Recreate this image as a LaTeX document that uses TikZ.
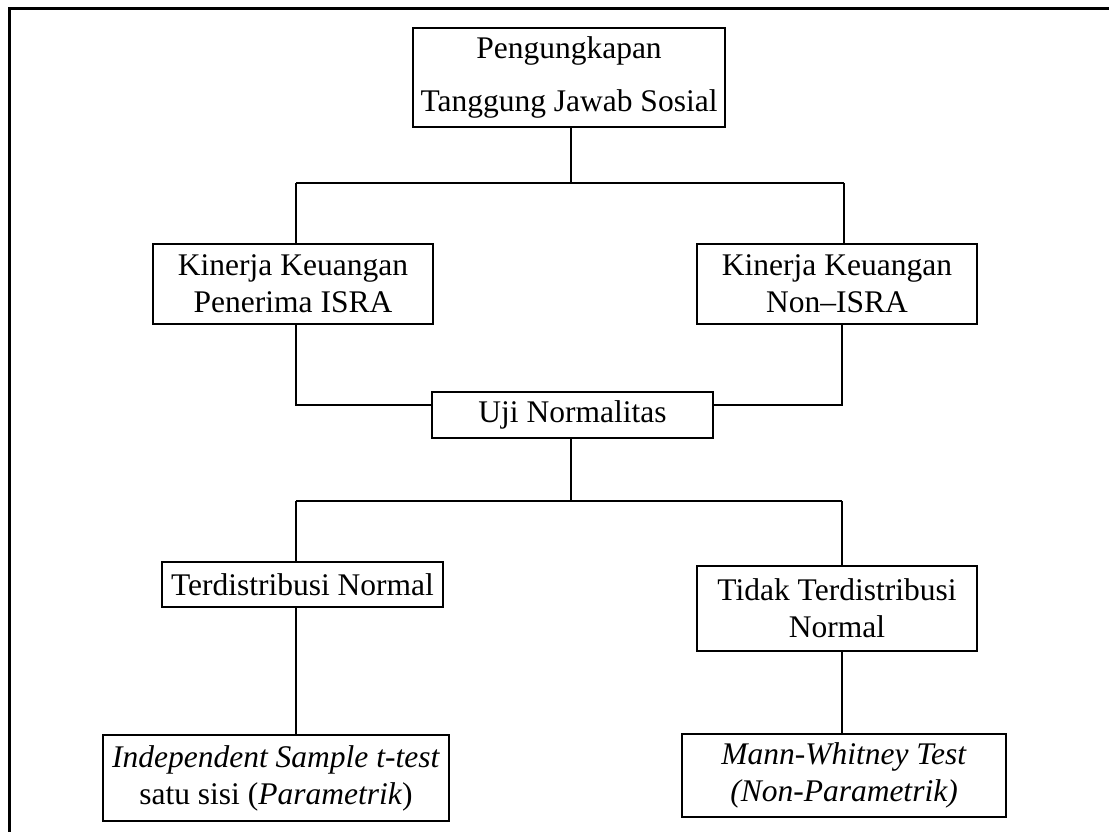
\documentclass[tikz,border=0pt]{standalone}
\usepackage{fontspec}
\setmainfont{Liberation Serif}
\tikzset{
  box/.style={draw, line width=1.6pt, inner sep=0pt, align=center, font=\fontsize{31.5}{37}\selectfont},
  conn/.style={line width=1.6pt},
  frame/.style={line width=3pt}
}
\begin{document}
\begin{tikzpicture}[x=1pt,y=-1pt]
\useasboundingbox (0,0) rectangle (1109,831);
\clip (0,0) rectangle (1109,831);
\draw[frame] (9,8) rectangle (1130,850);
% boxes
\node[box, minimum width=312pt, minimum height=99pt, font=\fontsize{31.5}{53}\selectfont] (top) at (569,77.5) {Pengungkapan\\Tanggung Jawab Sosial};
\node[box, minimum width=280pt, minimum height=80pt] (kin1) at (293,284) {Kinerja Keuangan\\Penerima ISRA};
\node[box, minimum width=280pt, minimum height=80pt] (kin2) at (837,284) {Kinerja Keuangan\\Non–ISRA};
\node[box, minimum width=281pt, minimum height=46pt] (uji) at (572.5,415) {Uji Normalitas};
\node[box, minimum width=281pt, minimum height=45pt] (td) at (302.5,584.5) {Terdistribusi Normal};
\node[box, minimum width=280pt, minimum height=85pt] (ttd) at (837,608.5) {Tidak Terdistribusi\\Normal};
\node[box, minimum width=346pt, minimum height=86pt] (ind) at (276,778) {\textit{Independent Sample t-test}\\satu sisi (\textit{Parametrik})};
\node[box, minimum width=324pt, minimum height=83pt] (mann) at (844,775.5) {\textit{Mann-Whitney Test}\\\textit{(Non-Parametrik)}};
% junction coordinates
\coordinate (j0) at (571,183);
\coordinate (jl) at (296,183);
\coordinate (jr) at (844,183);
\coordinate (ml) at (296,405);
\coordinate (mr) at (842,405);
\coordinate (k0) at (571,501);
\coordinate (kl) at (296,501);
\coordinate (kr) at (842,501);
% connectors
\draw[conn] (top.south -| j0) -- (j0);
\draw[conn] (jl) -- (jr);
\draw[conn] (jl) -- (kin1.north -| jl);
\draw[conn] (jr) -- (kin2.north -| jr);
\draw[conn] (kin1.south -| ml) -- (ml) -- (uji.west |- ml);
\draw[conn] (kin2.south -| mr) -- (mr) -- (uji.east |- mr);
\draw[conn] (uji.south -| k0) -- (k0);
\draw[conn] (kl) -- (kr);
\draw[conn] (kl) -- (td.north -| kl);
\draw[conn] (kr) -- (ttd.north -| kr);
\draw[conn] (td.south -| kl) -- (ind.north -| kl);
\draw[conn] (ttd.south -| kr) -- (mann.north -| kr);
\end{tikzpicture}
\end{document}
